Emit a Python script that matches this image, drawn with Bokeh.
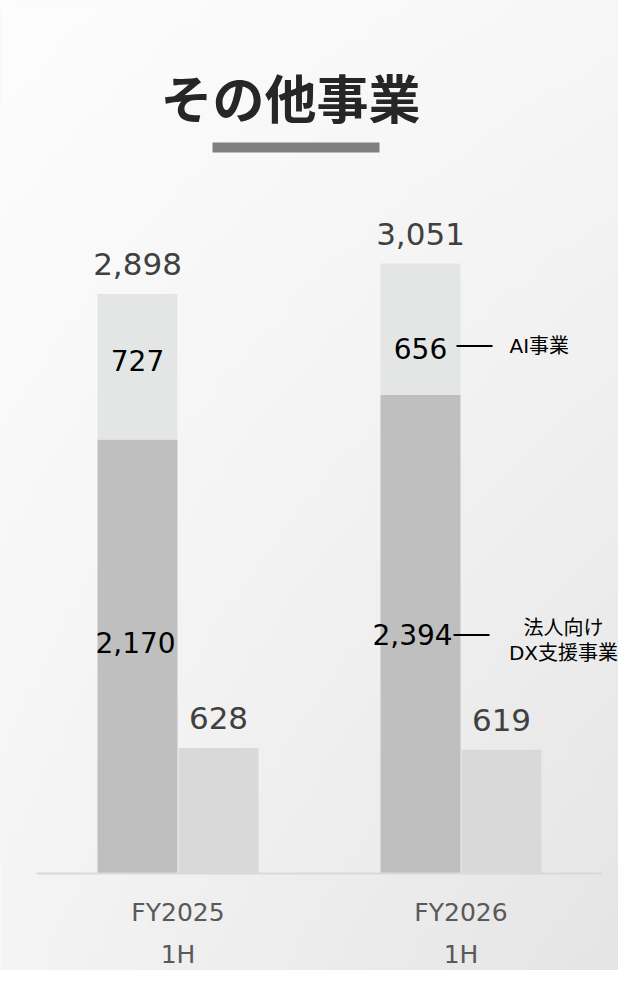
import numpy as np
from bokeh.plotting import figure
from bokeh.models import Range1d, ColumnDataSource
from bokeh.core.properties import value
from bokeh.embed import file_html
from bokeh.resources import INLINE

# ---------------- data ----------------
title = "その他事業"
period_line1 = ["FY2025", "FY2026"]
period_line2 = ["1H", "1H"]
dx_values = [2170, 2394]      # 法人向けDX支援事業
ai_values = [727, 656]        # AI事業
totals = [2898, 3051]
other_values = [628, 619]
dx_name_lines = ["法人向け", "DX支援事業"]
ai_name = "AI事業"

# ---------------- layout helpers ----------------
W, H = 618, 970
GROUP_PX = 283.0          # px between group centres
Y_PX = 0.2                # px per unit
G0_PX = 177.5             # x of first group centre
BASE_PX = 873.0           # y (from top) of baseline


def fx(px):
    return (px - G0_PX) / GROUP_PX


def fy(py):
    return (BASE_PX - py) / Y_PX


def dpx(px):
    return px / GROUP_PX


LATIN = "DejaVu Sans, Noto Sans CJK JP"
CJK = "Noto Sans CJK JP"

p = figure(width=W, height=H, x_range=Range1d(fx(0), fx(W)), y_range=Range1d(fy(H), fy(0)),
           output_backend="svg", toolbar_location=None, x_axis_location=None, y_axis_location=None,
           min_border=0, min_border_left=0, min_border_right=0, min_border_top=0, min_border_bottom=0)
p.grid.visible = False
p.outline_line_color = None
p.background_fill_color = "#f4f4f4"
p.border_fill_color = "#ffffff"

# background gradient
ny, nx = 97, 62
yy, xx = np.mgrid[0:ny, 0:nx]
t = 1 - yy / (ny - 1)   # 0 at top, 1 at bottom (row 0 is bottom)
u = xx / (nx - 1)
v = (253 - 6 * u - 9 * t - 9 * u * t).astype(np.uint8)
img = np.empty((ny, nx), dtype=np.uint32)
view = img.view(dtype=np.uint8).reshape((ny, nx, 4))
view[:, :, 0] = v
view[:, :, 1] = v
view[:, :, 2] = v
view[:, :, 3] = 255
p.image_rgba(image=[img], x=fx(0), y=fy(H), dw=fx(W) - fx(0), dh=fy(0) - fy(H), level="image")

# ---------------- bars ----------------
idx = np.arange(len(period_line1), dtype=float)
bw = dpx(80)
stack_x = idx - dpx(40.5)
other_x = idx + dpx(40.5)
dx_arr = np.array(dx_values, dtype=float)
ai_arr = np.array(ai_values, dtype=float)
stack_top = dx_arr + ai_arr

p.vbar(x=stack_x, bottom=0, top=dx_arr, width=bw, fill_color="#bfbfbf", line_color=None)
p.vbar(x=stack_x, bottom=dx_arr, top=stack_top, width=bw, fill_color="#e3e6e5", line_color=None)
p.vbar(x=other_x, bottom=0, top=other_values, width=bw, fill_color="#d9d9d9", line_color=None)

# baseline
p.segment(x0=[-0.5], y0=[0], x1=[1.5], y1=[0], line_color="#d9d9d9", line_width=2)

# ---------------- value labels ----------------
top_src = ColumnDataSource(dict(
    x=list(stack_x) + list(other_x),
    y=list(stack_top) + list(other_values),
    t=[f"{v:,}" for v in totals] + [f"{v:,}" for v in other_values],
))
p.text(x="x", y="y", text="t", source=top_src, text_align="center", text_baseline="middle",
       y_offset=-30, text_font=value(LATIN), text_font_size="31px", text_color="#404040")

inner_dy = [-14, 0, -6, 19]   # px nudges: dx25, dx26, ai25, ai26
in_src = ColumnDataSource(dict(
    x=list(stack_x) + list(stack_x),
    y=list(dx_arr / 2) + list(dx_arr + ai_arr / 2),
    t=[f"{v:,}" for v in dx_values] + [f"{v:,}" for v in ai_values],
    dy=inner_dy,
    dxo=[-2, -8, 0, 0],
))
p.text(x="x", y="y", text="t", source=in_src, text_align="center", text_baseline="middle",
       x_offset="dxo", y_offset="dy", text_font=value(LATIN), text_font_size="28px", text_color="#000000")

# leader lines + segment names (second period)
lx0 = stack_x[1] + bw / 2 - dpx(4)
lx1 = lx0 + dpx(36)
ai_ly = dx_arr[1] + ai_arr[1] / 2 - 17 / Y_PX
dx_ly = dx_arr[1] / 2 - 1 / Y_PX
p.segment(x0=[lx0, lx0 - dpx(3)], y0=[ai_ly, dx_ly], x1=[lx1, lx1 - dpx(3)], y1=[ai_ly, dx_ly],
          line_color="#000000", line_width=2)
p.text(x=[lx1 + dpx(17)], y=[ai_ly], text=[ai_name], text_align="left", text_baseline="middle",
       text_font=value(LATIN), text_font_size="20px", text_color="#000000")
p.text(x=[lx1 + dpx(71)] * 2, y=[dx_ly] * 2, text=dx_name_lines, text_align="center",
       text_baseline="middle", y_offset=[-7, 18], text_font=value(LATIN), text_font_size="20px",
       text_color="#000000")

# ---------------- category labels ----------------
p.text(x=idx, y=[0, 0], text=period_line1, text_align="center", text_baseline="middle", y_offset=39,
       text_font=value(LATIN), text_font_size="25px", text_color="#595959")
p.text(x=idx, y=[0, 0], text=period_line2, text_align="center", text_baseline="middle", y_offset=81,
       text_font=value(LATIN), text_font_size="25px", text_color="#595959")

# ---------------- title ----------------
p.text(x=[fx(290)], y=[fy(96)], text=[title], text_align="center", text_baseline="middle",
       text_font=value(CJK), text_font_style="bold", text_font_size="52px", text_color="#262626")
p.quad(left=[fx(212)], right=[fx(379)], top=[fy(142)], bottom=[fy(152)],
       fill_color="#7f7f7f", line_color=None)

open("out.html", "w").write(file_html(p, INLINE))
